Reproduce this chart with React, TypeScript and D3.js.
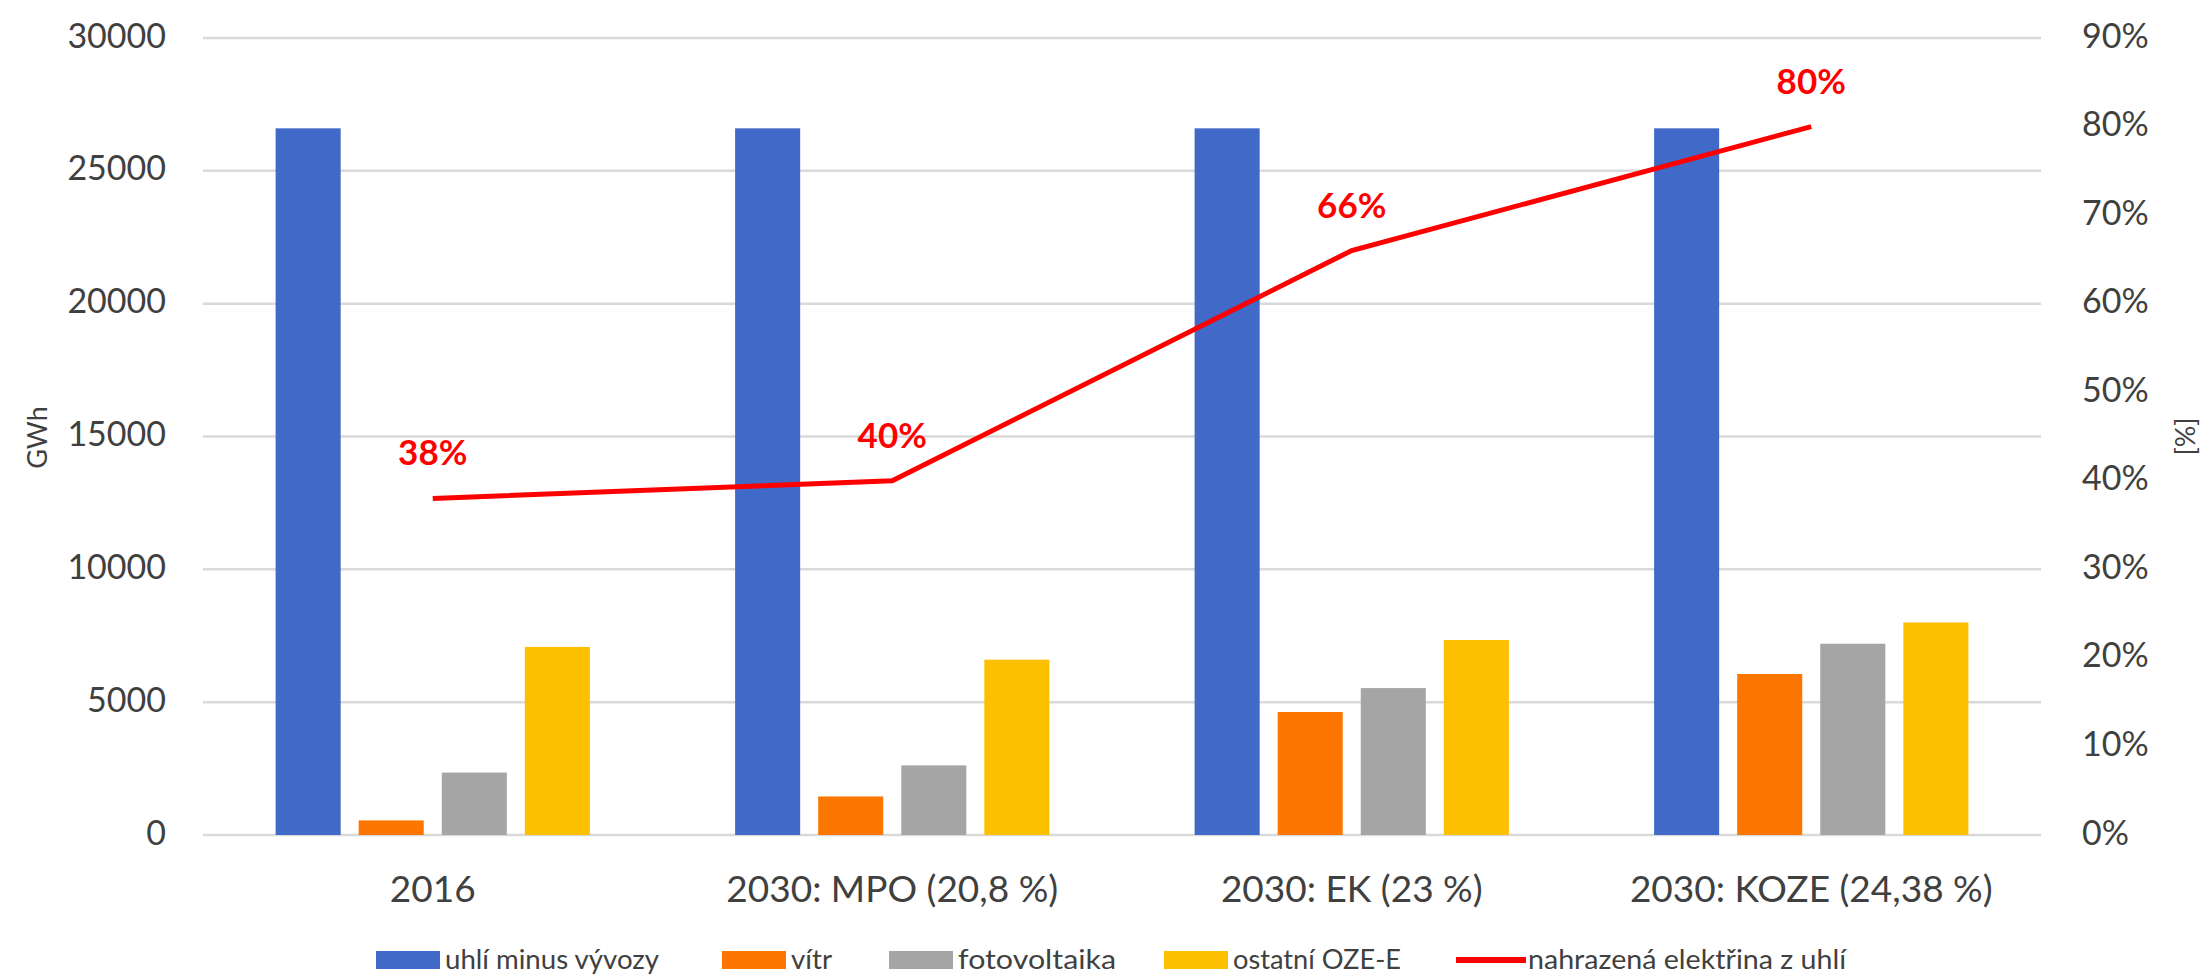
import React from "react";
import * as d3 from "d3";

const categories = ["2016", "2030: MPO (20,8 %)", "2030: EK (23 %)", "2030: KOZE (24,38 %)"];
const seriesNames = ["uhlí minus vývozy", "vítr", "fotovoltaika", "ostatní OZE-E"];
const lineName = "nahrazená elektřina z uhlí";
const coal = [26600, 26600, 26600, 26600];
const wind = [550, 1450, 4630, 6060];
const solar = [2350, 2620, 5530, 7200];
const otherRes = [7080, 6600, 7340, 8000];
const replaced = [0.38, 0.40, 0.66, 0.80];
const leftTicks = [0, 5000, 10000, 15000, 20000, 25000, 30000];
const rightTicks = [0, 0.1, 0.2, 0.3, 0.4, 0.5, 0.6, 0.7, 0.8, 0.9];

const colors = ["#4169C8", "#FC7600", "#A5A5A5", "#FCC000"];
const lineColor = "#FF0000";
const textColor = "#404040";
const gridColor = "#D9D9D9";
const font = "Lato, 'Open Sans', sans-serif";

const W = 2201;
const H = 976;
const plot = { left: 203, right: 2041, top: 38, bottom: 835 };

export default function App() {
  const values = [coal, wind, solar, otherRes];
  const x0 = d3.scaleBand<string>().domain(categories).range([plot.left, plot.right]).padding(0);
  const x1 = d3
    .scaleBand<string>()
    .domain(seriesNames)
    .range([0, x0.bandwidth()])
    .paddingInner(0.217)
    .paddingOuter(0.874);
  const yL = d3.scaleLinear().domain([0, 30000]).range([plot.bottom, plot.top]);
  const yR = d3.scaleLinear().domain([0, 0.9]).range([plot.bottom, plot.top]);
  const pct = d3.format(".0%");

  const linePts: [number, number][] = categories.map((c, i) => [
    (x0(c) as number) + x0.bandwidth() / 2,
    yR(replaced[i]),
  ]);
  const lineGen = d3.line();

  const legendItems = [
    { name: seriesNames[0], color: colors[0], x: 376, textW: 214, type: "rect" },
    { name: seriesNames[1], color: colors[1], x: 722, textW: 41, type: "rect" },
    { name: seriesNames[2], color: colors[2], x: 889, textW: 158, type: "rect" },
    { name: seriesNames[3], color: colors[3], x: 1164, textW: 168, type: "rect" },
    { name: lineName, color: lineColor, x: 1456, textW: 318, type: "line" },
  ];
  const legendY = 960;

  return (
    <div style={{ position: "absolute", left: 0, top: 0 }}>
      <svg width={W} height={H} style={{ display: "block", background: "#fff" }}>
        {/* gridlines */}
        {leftTicks.map((t) => (
          <line
            key={"g" + t}
            x1={plot.left}
            x2={plot.right}
            y1={yL(t)}
            y2={yL(t)}
            stroke={gridColor}
            strokeWidth={2.5}
          />
        ))}
        {/* left tick labels */}
        {leftTicks.map((t) => (
          <text
            key={"l" + t}
            x={166}
            y={yL(t) - 4}
            textAnchor="end"
            dominantBaseline="central"
            fontFamily={font}
            fontSize={34}
            fill={textColor}
          >
            {t}
          </text>
        ))}
        {/* right tick labels */}
        {rightTicks.map((t) => (
          <text
            key={"r" + t}
            x={2082}
            y={yR(t) - 4}
            textAnchor="start"
            dominantBaseline="central"
            fontFamily={font}
            fontSize={34}
            fill={textColor}
          >
            {pct(t)}
          </text>
        ))}
        {/* axis titles */}
        <text
          transform={`translate(36,${(plot.top + plot.bottom) / 2 + 1}) rotate(-90)`}
          textAnchor="middle"
          dominantBaseline="central"
          fontFamily={font}
          fontSize={27}
          fill={textColor}
        >
          GWh
        </text>
        <text
          transform={`translate(2184,${(plot.top + plot.bottom) / 2}) rotate(-90)`}
          textAnchor="middle"
          dominantBaseline="central"
          fontFamily={font}
          fontSize={27}
          fill={textColor}
        >
          [%]
        </text>
        {/* bars */}
        {categories.map((c, ci) => (
          <g key={c} transform={`translate(${x0(c)},0)`}>
            {seriesNames.map((s, si) => (
              <rect
                key={s}
                x={x1(s)}
                width={x1.bandwidth()}
                y={yL(values[si][ci])}
                height={plot.bottom - yL(values[si][ci])}
                fill={colors[si]}
              />
            ))}
          </g>
        ))}
        {/* line */}
        <path d={lineGen(linePts) || ""} fill="none" stroke={lineColor} strokeWidth={5} />
        {linePts.map((p, i) => (
          <text
            key={"dl" + i}
            x={p[0]}
            y={p[1] - 47}
            textAnchor="middle"
            dominantBaseline="central"
            fontFamily={font}
            fontWeight="bold"
            fontSize={35}
            fill={lineColor}
          >
            {pct(replaced[i])}
          </text>
        ))}
        {/* x labels */}
        {categories.map((c) => (
          <text
            key={"x" + c}
            x={(x0(c) as number) + x0.bandwidth() / 2}
            y={887}
            textAnchor="middle"
            dominantBaseline="central"
            fontFamily={font}
            fontSize={37}
            fill={textColor}
          >
            {c}
          </text>
        ))}
        {/* legend */}
        {legendItems.map((it) => (
          <g key={it.name}>
            {it.type === "rect" ? (
              <rect x={it.x} y={legendY - 9} width={64} height={18} fill={it.color} />
            ) : (
              <line x1={it.x} x2={it.x + 70} y1={legendY} y2={legendY} stroke={it.color} strokeWidth={6} />
            )}
            <text
              x={it.x + (it.type === "rect" ? 69 : 72)}
              y={legendY - 1}
              dominantBaseline="central"
              fontFamily={font}
              fontSize={26}
              fill={textColor}
              textLength={it.textW}
              lengthAdjust="spacingAndGlyphs"
            >
              {it.name}
            </text>
          </g>
        ))}
      </svg>
    </div>
  );
}
